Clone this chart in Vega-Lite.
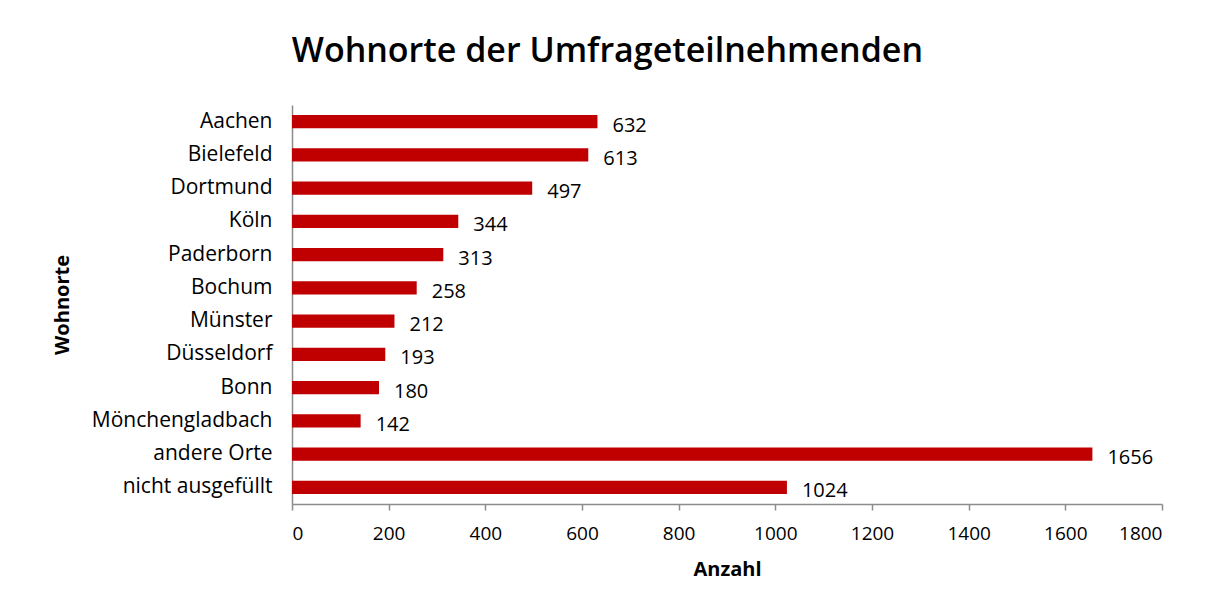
{
  "$schema": "https://vega.github.io/schema/vega-lite/v6.json",
  "autosize": {"type": "none"},
  "padding": {"left": 292, "top": 105, "right": 47, "bottom": 103},
  "width": 870,
  "height": 399,
  "background": "white",
  "title": {
    "text": "Wohnorte der Umfrageteilnehmenden",
    "font": "Open Sans",
    "fontSize": 34,
    "fontWeight": 600,
    "color": "black",
    "anchor": "middle",
    "frame": "bounds",
    "offset": 36
  },
  "config": {
    "view": {"stroke": null},
    "axis": {"labelFont": "Open Sans", "titleFont": "Open Sans", "labelColor": "black", "titleColor": "black", "domainColor": "#8c8c8c", "tickColor": "#8c8c8c", "grid": false}
  },
  "data": {
    "values": [
      {"ort": "Aachen", "anzahl": 632},
      {"ort": "Bielefeld", "anzahl": 613},
      {"ort": "Dortmund", "anzahl": 497},
      {"ort": "Köln", "anzahl": 344},
      {"ort": "Paderborn", "anzahl": 313},
      {"ort": "Bochum", "anzahl": 258},
      {"ort": "Münster", "anzahl": 212},
      {"ort": "Düsseldorf", "anzahl": 193},
      {"ort": "Bonn", "anzahl": 180},
      {"ort": "Mönchengladbach", "anzahl": 142},
      {"ort": "andere Orte", "anzahl": 1656},
      {"ort": "nicht ausgefüllt", "anzahl": 1024}
    ]
  },
  "encoding": {
    "y": {
      "field": "ort",
      "type": "nominal",
      "sort": null,
      "scale": {"paddingInner": 0.6, "paddingOuter": 0.3},
      "axis": {"title": "Wohnorte", "titleFontSize": 20, "titleFontWeight": "bold", "titlePadding": 20, "labelFontSize": 21, "labelPadding": 20, "labelLimit": 0, "ticks": false, "domainWidth": 1.5}
    },
    "x": {
      "field": "anzahl",
      "type": "quantitative",
      "scale": {"domain": [0, 1800], "nice": false},
      "axis": {"title": "Anzahl", "titleFontSize": 20, "titleFontWeight": "bold", "titlePadding": 16, "labelFontSize": 19, "labelPadding": 14, "tickSize": 6, "format": "d", "values": [0, 200, 400, 600, 800, 1000, 1200, 1400, 1600, 1800], "domainWidth": 1.5, "tickWidth": 1.5}
    }
  },
  "layer": [
    {"mark": {"type": "bar", "color": "#C00000"}},
    {
      "mark": {"type": "text", "align": "left", "baseline": "middle", "dx": 15, "dy": 4, "font": "Open Sans", "fontSize": 20, "color": "black"},
      "encoding": {"text": {"field": "anzahl", "type": "quantitative"}}
    }
  ]
}
